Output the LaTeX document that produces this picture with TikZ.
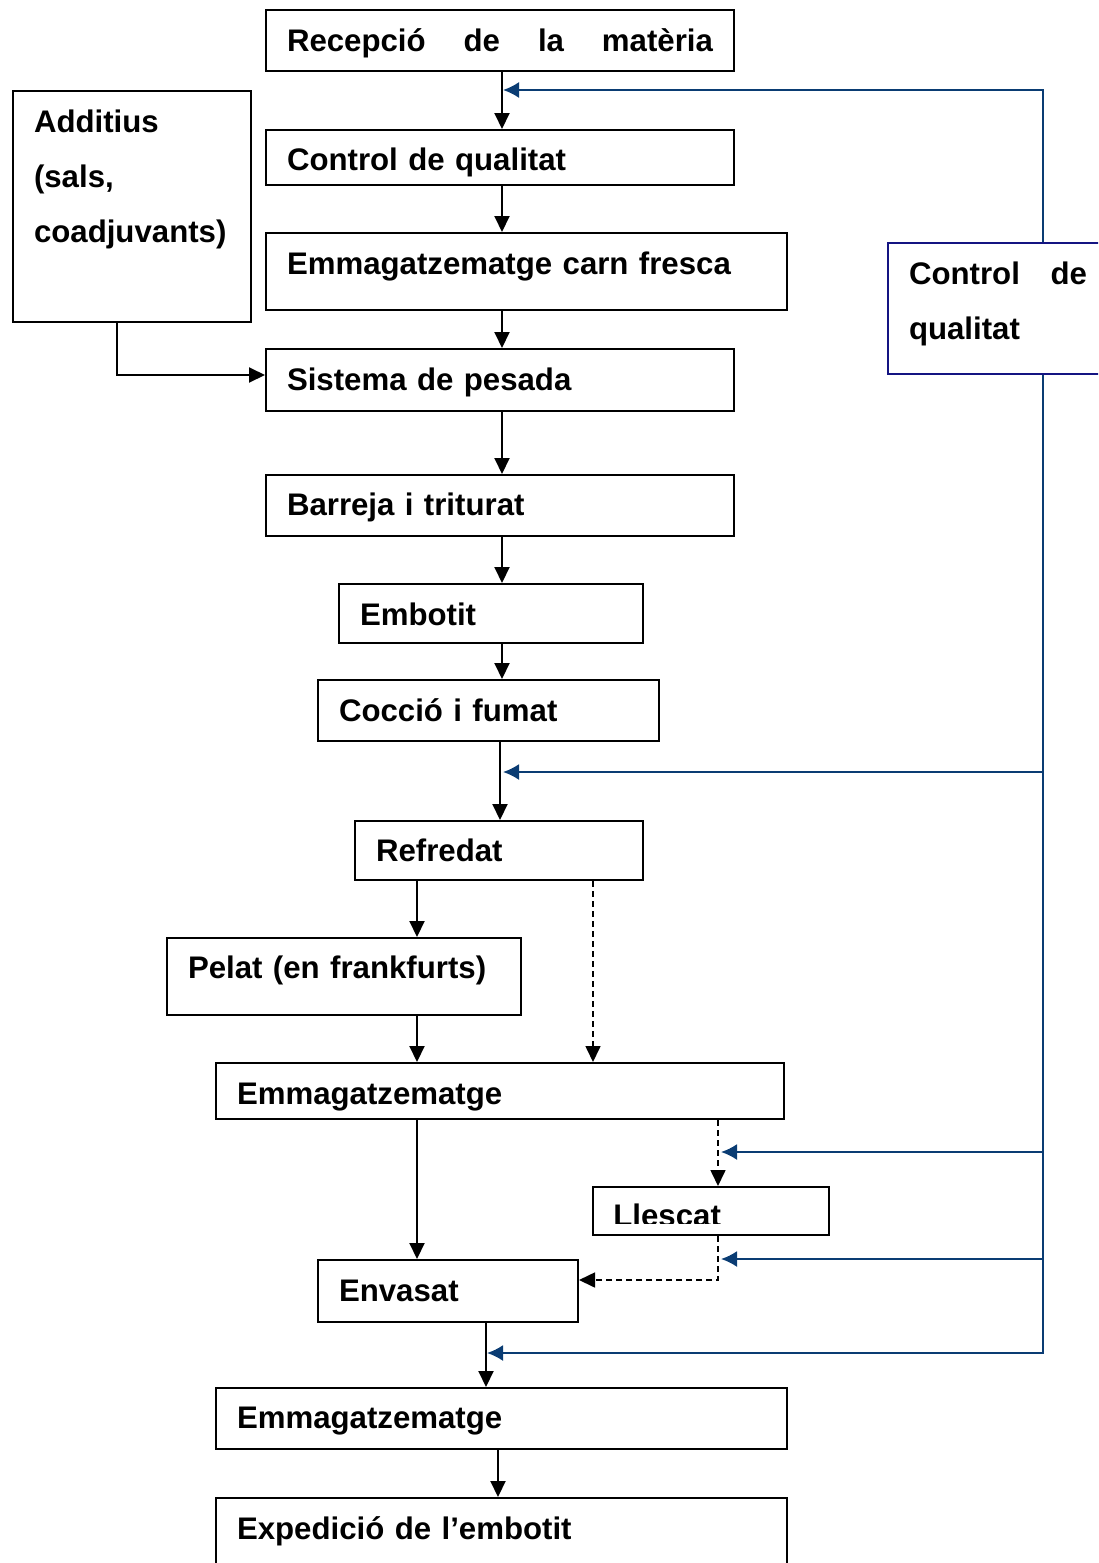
\documentclass[tikz,border=0pt]{standalone}
\usepackage{fontspec}
\setmainfont{Liberation Sans}
\usetikzlibrary{arrows.meta}
\definecolor{blaufosc}{RGB}{10,60,115}
\definecolor{marcblau}{RGB}{20,20,130}
\newcommand{\lletra}{\bfseries\fontsize{15.6}{27.5}\selectfont}
\tikzset{
  etapa/.style={draw, line width=1pt, anchor=north west, inner xsep=10.5pt,
                inner ysep=0pt, align=left, font=\lletra},
  fletxa/.style={line width=1pt, -{Triangle[length=8pt,width=7.5pt]}},
  discont/.style={line width=0.8pt, dash pattern=on 3pt off 2pt,
                  -{Triangle[length=8pt,width=7.5pt]}},
  control/.style={draw=blaufosc, line width=1pt, -{Latex[length=8pt,width=8pt]}},
}
\begin{document}
\begin{tikzpicture}[x=0.5pt,y=-0.5pt]%{{{
\useasboundingbox (0,0) rectangle (1098,1563);
\clip (0,0) rectangle (1098,1563);
%
% Etapes del proces
\node [etapa, text height=20.5pt, text depth=10pt] (recep) at (265,9)
      {\makebox[213pt][s]{Recepció\hfill de\hfill la\hfill matèria}};
\node [etapa, text width=213pt, text height=20pt, text depth=7.5pt] (ctrl1) at (265,129)
      {Control de qualitat};
\node [etapa, text width=239.5pt, text height=20.5pt, text depth=18pt] (carn) at (265,232)
      {Emmagatzematge carn fresca};
\node [etapa, text width=213pt, text height=20.5pt, text depth=10.5pt] (pesada) at (265,348)
      {Sistema de pesada};
\node [etapa, text width=213pt, text height=20pt, text depth=10.5pt] (barreja) at (265,474)
      {Barreja i triturat};
\node [etapa, text width=131pt, text height=20.5pt, text depth=9pt] (embotit) at (338,583)
      {Embotit};
\node [etapa, text width=149.5pt, text height=20.5pt, text depth=10pt] (coccio) at (317,679)
      {Cocció i fumat};
\node [etapa, text width=123pt, text height=20pt, text depth=9.5pt] (refredat) at (354,820)
      {Refredat};
\node [etapa, text width=156pt, text height=20pt, text depth=18.5pt] (pelat) at (166,937)
      {Pelat (en frankfurts)};
\node [etapa, text width=263pt, text height=20.5pt, text depth=7.5pt] (emmag1) at (215,1062)
      {Emmagatzematge};
\node [etapa, text width=97pt, text height=20pt, text depth=4pt] (llescat) at (592,1186) {};
\node [etapa, text width=109pt, text height=20.5pt, text depth=10.5pt] (envasat) at (317,1259)
      {Envasat};
\node [etapa, text width=264.5pt, text height=20pt, text depth=10.5pt] (emmag2) at (215,1387)
      {Emmagatzematge};
\node [etapa, text width=264.5pt, text height=20.5pt, text depth=21pt] (exped) at (215,1497)
      {Expedició de l’embotit};
%
% Text del llescat (tallat per baix)
\begin{scope}
\clip (592,1186) rectangle (828,1223);
\node [anchor=base west, inner sep=0pt, font=\lletra] (llescattxt) at (613,1226) {Llescat};
\end{scope}
%
% Additius i control
\node [etapa, text width=98pt, text height=20.5pt, text depth=95pt] (additius) at (12,90)
      {Additius\\(sals,\\coadjuvants)};
\node [etapa, draw=marcblau, text width=89pt, text height=20.5pt, text depth=45pt] (cq2) at (887,242)
      {\makebox[89pt][s]{Control\hfill de}\\qualitat};
%
% Eixos de les fletxes
\coordinate (eix)  at (502,0);
\coordinate (eixb) at (417,0);
\coordinate (eixc) at (593,0);
\coordinate (eixd) at (718,0);
\coordinate (eixe) at (486,0);
\coordinate (eixf) at (498,0);
\coordinate (eixg) at (117,0);
\coordinate (bus)  at (1043,0);
%
% Flux principal
\draw [fletxa] (recep.south -| eix)   -- (ctrl1.north -| eix);
\draw [fletxa] (ctrl1.south -| eix)   -- (carn.north -| eix);
\draw [fletxa] (carn.south -| eix)    -- (pesada.north -| eix);
\draw [fletxa] (pesada.south -| eix)  -- (barreja.north -| eix);
\draw [fletxa] (barreja.south -| eix) -- (embotit.north -| eix);
\draw [fletxa] (embotit.south -| eix) -- (coccio.north -| eix);
\draw [fletxa] ([xshift=-1pt]coccio.south -| eix) -- ([xshift=-1pt]refredat.north -| eix);
\draw [fletxa] (refredat.south -| eixb) -- (pelat.north -| eixb);
\draw [fletxa] (pelat.south -| eixb)    -- (emmag1.north -| eixb);
\draw [fletxa] (emmag1.south -| eixb)   -- (envasat.north -| eixb);
\draw [fletxa] (envasat.south -| eixe)  -- (emmag2.north -| eixe);
\draw [fletxa] (emmag2.south -| eixf)   -- (exped.north -| eixf);
\draw [fletxa] (additius.south -| eixg) |- ([yshift=2.5pt]pesada.west);
%
% Camins discontinus
\draw [discont] (refredat.south -| eixc) -- (emmag1.north -| eixc);
\draw [discont] (emmag1.south -| eixd)   -- (llescat.north -| eixd);
\draw [discont] (llescat.south -| eixd)  |- ([yshift=5.5pt]envasat.east);
%
% Control de qualitat (blau)
\coordinate (entrada1) at (503,90);
\coordinate (entrada2) at (503,772);
\coordinate (entrada3) at (721,1152);
\coordinate (entrada4) at (721,1259);
\coordinate (entrada5) at (487,1353);
\draw [control] (cq2.north -| bus) |- (entrada1);
\draw [control] (cq2.south -| bus) |- (entrada5);
\draw [control] (bus |- entrada2) -- (entrada2);
\draw [control] (bus |- entrada3) -- (entrada3);
\draw [control] (bus |- entrada4) -- (entrada4);
%
\end{tikzpicture}
\end{document}
